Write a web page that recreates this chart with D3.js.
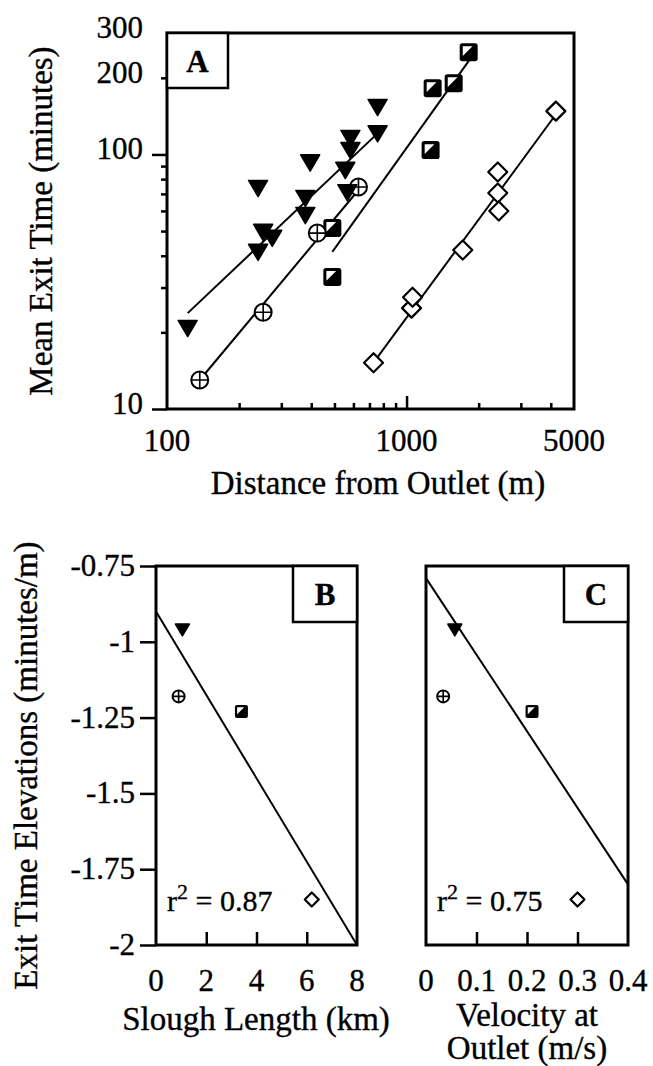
<!DOCTYPE html>
<html>
<head>
<meta charset="utf-8">
<script src="https://cdn.jsdelivr.net/npm/d3@7"></script>
<style>
  body { margin: 0; background: #fff; }
  svg { display: block; }
  text { font-family: "Liberation Serif", "Times New Roman", serif; fill: #000; stroke: #000; stroke-width: 0.35px; }
</style>
</head>
<body>
<svg id="fig" width="653" height="1066"></svg>
<script>
// ---- Panel A: mean exit time against distance from the outlet (log-log) ----
const triangleDist = [122, 240, 240, 252, 275, 378, 378, 396, 555, 566, 583, 583, 757, 757];
const triangleTime = [20.8, 41.4, 73.8, 49.6, 47, 57.8, 67.4, 93, 86.9, 71, 104, 116, 121, 153.5];
const circleDist = [137, 252, 424, 630];
const circleTime = [13.0, 24.0, 49.1, 74.5];
const squareDist = [490, 490, 1260, 1285, 1573, 1817];
const squareTime = [33, 51.4, 104, 182, 190.6, 252];
const diamondDist = [728, 1049, 1059, 1716, 2403, 2403, 2427, 4200];
const diamondTime = [15.2, 24.9, 27.5, 42.1, 70.5, 85.3, 60, 148];

// Fitted power-law lines, given by their end points
const triangleFitDist = [122, 757],  triangleFitTime = [23.8, 121];
const circleFitDist   = [137, 630],  circleFitTime   = [13.0, 72.5];
const squareFitDist   = [490, 1853], squareFitTime   = [41.4, 239];
const diamondFitDist  = [728, 4116], diamondFitTime  = [15.2, 140];

const distTickLabels = [100, 1000, 5000];
const distMinorTicks = [200, 300, 400, 500, 600, 700, 800, 900, 2000, 3000, 4000];
const timeTickLabels = [10, 100, 200, 300];
const timeMajorTicks = [10, 100];
const timeMinorTicks = [20, 30, 40, 50, 60, 70, 80, 90, 200];

// ---- Panels B and C: exit-time elevation against slough length and outlet velocity ----
const sloughSymbols = ["tri", "circ", "sq", "dia"];
const sloughLength = [1.05, 0.9, 3.4, 6.2];
const outletVelocity = [0.057, 0.034, 0.21, 0.30];
const exitElevation = [-0.96, -1.18, -1.23, -1.85];
const lengthFitX = [0, 8], lengthFitY = [-0.9, -2.0];
const velocityFitX = [0, 0.4], velocityFitY = [-0.79, -1.80];
const lengthTicks = [0, 2, 4, 6, 8];
const velocityTicks = [0, 0.1, 0.2, 0.3, 0.4];
const elevationTicks = [-0.75, -1, -1.25, -1.5, -1.75, -2];
const rSquared = ["0.87", "0.75"];

const svg = d3.select("#fig");
const TICK_FONT = 31, TITLE_FONT = 33;

// Symbol painters; s is the symbol size in px
const painters = {
  tri: (g, s) => g.append("path")
    .attr("d", `M${-s / 2},${-s * 0.4}L${s / 2},${-s * 0.4}L0,${s * 0.45}Z`)
    .attr("fill", "#000").attr("stroke", "#000").attr("stroke-width", 1.5).attr("stroke-linejoin", "round"),
  circ: (g, s) => {
    g.append("circle").attr("r", s / 2).attr("fill", "#fff").attr("stroke", "#000").attr("stroke-width", 2);
    g.append("path").attr("d", `M${-s / 2},0H${s / 2}M0,${-s / 2}V${s / 2}`)
      .attr("stroke", "#000").attr("stroke-width", 1.6);
  },
  sq: (g, s) => {
    g.append("rect").attr("x", -s / 2).attr("y", -s / 2).attr("width", s).attr("height", s)
      .attr("rx", s * 0.15).attr("fill", "#000");
    const b = s * 0.17;
    g.append("path")
      .attr("d", `M${-s / 2 + b},${-s / 2 + b}L${s / 2 - b * 1.7},${-s / 2 + b}L${-s / 2 + b},${s / 2 - b * 1.7}Z`)
      .attr("fill", "#fff");
  },
  dia: (g, s) => g.append("path")
    .attr("d", `M0,${-s / 2}L${s / 2},0L0,${s / 2}L${-s / 2},0Z`)
    .attr("fill", "#fff").attr("stroke", "#000").attr("stroke-width", 2.2).attr("stroke-linejoin", "round")
};

function drawPoints(layer, xs, ys, x, y, kind, size) {
  xs.forEach((v, i) => {
    const g = layer.append("g").attr("transform", `translate(${x(v)},${y(ys[i])})`);
    painters[kind](g, size);
  });
}

function drawFit(layer, xs, ys, x, y, w) {
  layer.append("path")
    .attr("d", d3.line().x(d => x(d[0])).y(d => y(d[1]))(xs.map((v, i) => [v, ys[i]])))
    .attr("fill", "none").attr("stroke", "#000").attr("stroke-width", w);
}

function drawFrame(x0, x1, y0, y1) {
  svg.append("rect").attr("x", x0).attr("y", y0).attr("width", x1 - x0).attr("height", y1 - y0)
    .attr("fill", "none").attr("stroke", "#000").attr("stroke-width", 3);
}

function panelTag(x1, y0, w, h, label) {
  svg.append("rect").attr("x", x1 - w).attr("y", y0).attr("width", w).attr("height", h)
    .attr("fill", "#fff").attr("stroke", "#000").attr("stroke-width", 2.5);
  svg.append("text").attr("x", x1 - w / 2).attr("y", y0 + h / 2 + 11)
    .attr("text-anchor", "middle").attr("font-size", 31).attr("font-weight", "bold").text(label);
}

function stripDomain(g) { g.select(".domain").remove(); g.selectAll(".tick line").attr("stroke-width", 2.5); }

// ================= Panel A =================
const ax0 = 167, ax1 = 574, ay0 = 33, ay1 = 409;
const xA = d3.scaleLog().domain([100, 5000]).range([ax0, ax1]);
const yA = d3.scaleLog().domain([10, 300]).range([ay1, ay0]);

svg.append("g").attr("transform", `translate(0,${ay1})`)
  .call(d3.axisBottom(xA).tickValues(distMinorTicks).tickSize(-6).tickFormat(""))
  .call(stripDomain);
svg.append("g").attr("transform", `translate(0,${ay1})`)
  .call(d3.axisBottom(xA).tickValues([1000]).tickSize(-13).tickFormat(""))
  .call(stripDomain);
svg.append("g").attr("transform", `translate(${ax0},0)`)
  .call(d3.axisLeft(yA).tickValues(timeMinorTicks).tickSize(6).tickFormat(""))
  .call(stripDomain);
svg.append("g").attr("transform", `translate(${ax0},0)`)
  .call(d3.axisLeft(yA).tickValues(timeMajorTicks).tickSize(15).tickFormat(""))
  .call(stripDomain);

const layerA = svg.append("g");
drawFit(layerA, triangleFitDist, triangleFitTime, xA, yA, 2);
drawFit(layerA, circleFitDist, circleFitTime, xA, yA, 2);
drawFit(layerA, squareFitDist, squareFitTime, xA, yA, 2);
drawFit(layerA, diamondFitDist, diamondFitTime, xA, yA, 2);
drawPoints(layerA, diamondDist, diamondTime, xA, yA, "dia", 19);
drawPoints(layerA, squareDist, squareTime, xA, yA, "sq", 18);
drawPoints(layerA, circleDist, circleTime, xA, yA, "circ", 17);
drawPoints(layerA, triangleDist, triangleTime, xA, yA, "tri", 19);

drawFrame(ax0, ax1, ay0, ay1);
panelTag(ax0 + 61, ay0, 61, 55, "A");

svg.selectAll(".xlabA").data(distTickLabels).join("text")
  .attr("x", d => xA(d)).attr("y", ay1 + 42).attr("text-anchor", "middle")
  .attr("font-size", TICK_FONT).text(d => d);
svg.selectAll(".ylabA").data(timeTickLabels).join("text")
  .attr("x", 143).attr("y", d => Math.max(yA(d), 29) + 5).attr("text-anchor", "end")
  .attr("font-size", TICK_FONT).text(d => d);

svg.append("text").attr("x", 378).attr("y", 494).attr("text-anchor", "middle")
  .attr("font-size", TITLE_FONT).text("Distance from Outlet (m)");
svg.append("text").attr("transform", `translate(52,${(ay0 + ay1) / 2}) rotate(-90)`)
  .attr("text-anchor", "middle").attr("font-size", TITLE_FONT).text("Mean Exit Time (minutes)");

// ================= Panels B and C =================
const by0 = 566, by1 = 945;
const yBC = d3.scaleLinear().domain([-2, -0.75]).range([by1, by0]);

function smallPanel(x0, x1, xDomain, ticks, fmt, xs, fitX, fitY, tag, r2, showY) {
  const x = d3.scaleLinear().domain(xDomain).range([x0, x1]);
  svg.append("g").attr("transform", `translate(0,${by1})`)
    .call(d3.axisBottom(x).tickValues(ticks.slice(1, -1)).tickSize(-13).tickFormat(""))
    .call(stripDomain);
  if (showY) {
    svg.append("g").attr("transform", `translate(${x0},0)`)
      .call(d3.axisLeft(yBC).tickValues(elevationTicks).tickSize(16).tickFormat(""))
      .call(stripDomain);
    svg.selectAll(".ylabB").data(elevationTicks).join("text")
      .attr("x", 135).attr("y", d => yBC(d) + 10).attr("text-anchor", "end")
      .attr("font-size", TICK_FONT).text(d => d);
  }
  const layer = svg.append("g");
  drawFit(layer, fitX, fitY, x, yBC, 2);
  xs.forEach((v, i) => {
    const g = layer.append("g").attr("transform", `translate(${x(v)},${yBC(exitElevation[i])})`);
    painters[sloughSymbols[i]](g, { tri: 14, circ: 12, sq: 13, dia: 14 }[sloughSymbols[i]]);
  });
  drawFrame(x0, x1, by0, by1);
  panelTag(x1, by0, 64, 56, tag);
  ticks.forEach(t => {
    svg.append("text").attr("x", x(t)).attr("y", by1 + 46).attr("text-anchor", "middle")
      .attr("font-size", TICK_FONT).text(fmt(t));
  });
  const rt = svg.append("text").attr("x", x0 + 11).attr("y", yBC(exitElevation[3]) + 11)
    .attr("font-size", 30);
  rt.append("tspan").text("r");
  rt.append("tspan").attr("dy", -12).attr("font-size", 22).text("2");
  rt.append("tspan").attr("dy", 12).text(" = " + r2);
  return x;
}

smallPanel(156, 357, [0, 8], lengthTicks, d => d, sloughLength,
  lengthFitX, lengthFitY, "B", rSquared[0], true);
smallPanel(426, 628, [0, 0.4], velocityTicks, d => d === 0 ? "0" : d.toFixed(1), outletVelocity,
  velocityFitX, velocityFitY, "C", rSquared[1], false);

svg.append("text").attr("x", 256).attr("y", 1030).attr("text-anchor", "middle")
  .attr("font-size", TITLE_FONT).text("Slough Length (km)");
svg.append("text").attr("x", 527).attr("y", 1026).attr("text-anchor", "middle")
  .attr("font-size", TITLE_FONT).text("Velocity at");
svg.append("text").attr("x", 527).attr("y", 1059).attr("text-anchor", "middle")
  .attr("font-size", TITLE_FONT).text("Outlet (m/s)");
svg.append("text").attr("transform", `translate(37,${(by0 + by1) / 2 + 10}) rotate(-90)`)
  .attr("text-anchor", "middle").attr("font-size", TITLE_FONT).text("Exit Time Elevations (minutes/m)");
</script>
</body>
</html>
